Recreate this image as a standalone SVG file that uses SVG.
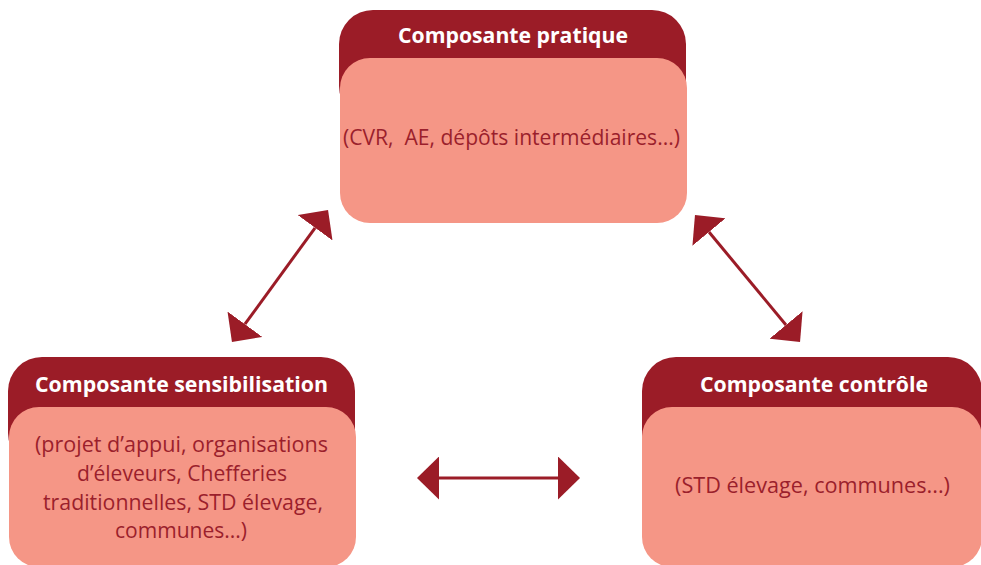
<svg xmlns="http://www.w3.org/2000/svg" width="981" height="565" viewBox="0 0 981 565">
<style>
.hdr{fill:#9b1c27}
.body{fill:#f59686}
.ht{font-family:"Open Sans","Liberation Sans",sans-serif;font-weight:bold;font-size:22px;fill:#ffffff;text-anchor:middle}
.bt{font-family:"Open Sans","Liberation Sans",sans-serif;font-size:21px;fill:#9b1f2c;text-anchor:middle;white-space:pre}
.con{stroke:#9b1c27;stroke-width:3;fill:none}
</style>
<defs>
<marker id="ah" viewBox="0 0 22 43" refX="0" refY="21.5" markerWidth="22" markerHeight="43" markerUnits="userSpaceOnUse" orient="auto-start-reverse">
<path d="M0,0 L22,21.5 L0,43 Z" fill="#9b1c27"/>
</marker>
</defs>
<rect width="981" height="565" fill="#ffffff"/>
<g id="node-pratique">
<rect class="hdr" x="339" y="10" width="347" height="110" rx="34"/>
<rect class="body" x="340" y="58" width="347" height="165" rx="30"/>
<text class="ht" x="513" y="43" textLength="230" lengthAdjust="spacingAndGlyphs">Composante pratique</text>
<text class="bt" x="511.5" y="145" textLength="337" lengthAdjust="spacingAndGlyphs" xml:space="preserve">(CVR,  AE, dépôts intermédiaires...)</text>
</g>
<g id="node-sensibilisation">
<rect class="hdr" x="8" y="357" width="347" height="110" rx="34"/>
<rect class="body" x="9" y="407" width="347" height="160" rx="30"/>
<text class="ht" x="181.5" y="392" textLength="293" lengthAdjust="spacingAndGlyphs">Composante sensibilisation</text>
<text class="bt" x="181.5" y="452" textLength="293" lengthAdjust="spacingAndGlyphs">(projet d’appui, organisations</text>
<text class="bt" x="182" y="481" textLength="210" lengthAdjust="spacingAndGlyphs">d’éleveurs, Chefferies</text>
<text class="bt" x="183" y="510" textLength="280" lengthAdjust="spacingAndGlyphs">traditionnelles, STD élevage,</text>
<text class="bt" x="181" y="538" textLength="132" lengthAdjust="spacingAndGlyphs">communes...)</text>
</g>
<g id="node-controle">
<rect class="hdr" x="642" y="357" width="340" height="110" rx="34"/>
<rect class="body" x="642" y="407" width="340" height="160" rx="30"/>
<text class="ht" x="814" y="392" textLength="228" lengthAdjust="spacingAndGlyphs">Composante contrôle</text>
<text class="bt" x="812.5" y="493" textLength="275" lengthAdjust="spacingAndGlyphs">(STD élevage, communes...)</text>
</g>
<g id="connectors">
<line class="con" x1="315.1" y1="227.8" x2="244.9" y2="324.2" marker-start="url(#ah)" marker-end="url(#ah)"/>
<line class="con" x1="709" y1="232" x2="786" y2="325" marker-start="url(#ah)" marker-end="url(#ah)"/>
<line class="con" x1="439" y1="478" x2="558" y2="478" marker-start="url(#ah)" marker-end="url(#ah)"/>
</g>
</svg>
